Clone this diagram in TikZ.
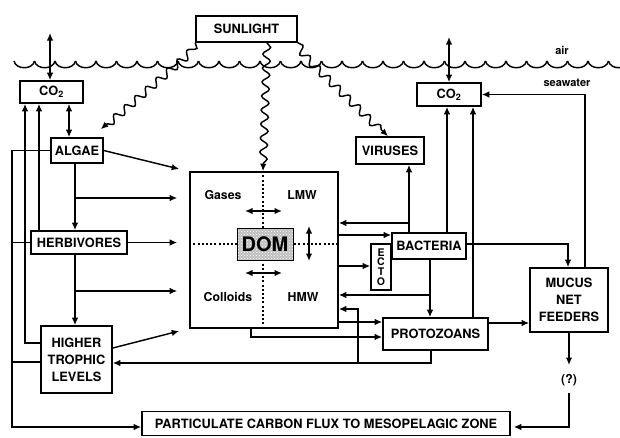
\documentclass[tikz,border=0pt]{standalone}
\usepackage{fontspec}
\setmainfont{TeX Gyre Heros}
\usetikzlibrary{arrows.meta,decorations.pathmorphing,patterns,calc}
\begin{document}
\begin{tikzpicture}[x=1pt,y=-1pt,
  box/.style={draw,line width=1.6pt,inner sep=0pt,align=center,font=\fontsize{12.8}{17}\selectfont\bfseries},
  arr/.style={line width=1.45pt,-{Latex[length=7.5pt,width=6.5pt]}},
  dbl/.style={line width=1.45pt,{Latex[length=7.5pt,width=6.5pt]}-{Latex[length=7.5pt,width=6.5pt]}},
  ln/.style={line width=1.45pt},
  wav/.style={line width=1.45pt,decorate,decoration={snake,amplitude=3.8pt,segment length=14pt,post length=7pt},-{Latex[length=7.5pt,width=6.5pt]}},
  lbl/.style={font=\fontsize{12.3}{14}\selectfont\bfseries,inner sep=0pt},
  dotl/.style={line width=1.2pt,dash pattern=on 2pt off 2.2pt}
]
\useasboundingbox (0,0) rectangle (620,437);

% water surface
\foreach \i in {0,...,29}{
  \pgfmathsetmacro\xa{14+20.5*\i}
  \draw[ln] (\xa,61) .. controls (\xa+2,70) and (\xa+18.5,70) .. (\xa+20.5,61);
}
\node[lbl,font=\fontsize{11}{12}\selectfont\bfseries] (air) at (562,50) {air};
\node[lbl,font=\fontsize{11}{12}\selectfont\bfseries] (sea) at (567,83) {seawater};

% boxes
\node[box,fill=white,minimum width=101pt,minimum height=26pt] (sun) at (246.5,29) {SUNLIGHT};
\node[box,fill=white,minimum width=63pt,minimum height=22pt] (co2L) at (51.5,92) {CO\textsubscript{2}};
\node[box,fill=white,minimum width=64pt,minimum height=23pt] (co2R) at (449,94.5) {CO\textsubscript{2}};
\node[box,minimum width=52pt,minimum height=25pt] (algae) at (77,150.5) {ALGAE};
\node[box,minimum width=96pt,minimum height=23pt] (herb) at (79,242.5) {HERBIVORES};
\node[box,minimum width=71pt,minimum height=67pt] (higher) at (76.5,359.5) {HIGHER\\TROPHIC\\LEVELS};
\node[box,minimum width=368pt,minimum height=24pt] (partic) at (326,423.5) {PARTICULATE CARBON FLUX TO MESOPELAGIC ZONE};
\node[box,minimum width=148pt,minimum height=156pt] (dom) at (264,250) {};
\node[box,minimum width=68pt,minimum height=27pt] (viruses) at (390,150.5) {VIRUSES};
\node[box,minimum width=74pt,minimum height=26pt] (bact) at (429,246) {BACTERIA};
\node[box,minimum width=20pt,minimum height=46pt,font=\fontsize{10.5}{9.7}\selectfont\bfseries] (ecto) at (381,267) {E\\C\\T\\O};
\node[box,minimum width=105pt,minimum height=32pt] (proto) at (435.5,334) {PROTOZOANS};
\node[box,minimum width=78pt,minimum height=64pt] (mucus) at (569,300) {MUCUS\\NET\\FEEDERS};
\node[lbl] (q) at (569,380) {(?)};
\coordinate (qt) at (569,365);
\coordinate (qb) at (569,393);

% DOM interior
\draw[dotl] (dom.north -| 263,0) -- (dom.south -| 263,0);
\draw[dotl] (dom.west |- 0,244) -- (dom.east |- 0,244);
\node[draw,line width=1pt,minimum width=56pt,minimum height=32pt,inner sep=0pt,
  preaction={fill=gray!50},pattern=crosshatch dots,pattern color=white,
  font=\fontsize{20}{20}\selectfont\bfseries] (domc) at (265,244) {DOM};
\node[lbl] (gases) at (223,195) {Gases};
\node[lbl] (lmw) at (302,195) {LMW};
\node[lbl] (colloids) at (228,297) {Colloids};
\node[lbl] (hmw) at (303,297) {HMW};
\coordinate (ha1) at (245,211); \coordinate (ha2) at (282,211);
\coordinate (hb1) at (245,273); \coordinate (hb2) at (282,273);
\coordinate (va1) at (309,226); \coordinate (va2) at (309,261);
\draw[dbl] (ha1) -- (ha2);
\draw[dbl] (hb1) -- (hb2);
\draw[dbl,line width=2.2pt] (va1) -- (va2);

% sunlight
\draw[wav] (sun.south west) .. controls (190,55) and (180,58) .. (175,65) -- ($(algae.north east)+(-3,-8)$);
\draw[wav] (sun.south -| 267,0) -- (dom.north -| 263,0);
\draw[wav] (sun.south east) .. controls (303,55) and (312,60) .. (316,66) -- ($(viruses.north)+(-2,0)$);

% air exchange
\coordinate (airL) at (50,33);
\coordinate (airR) at (449,37);
\draw[dbl] (airL) -- (co2L.north -| airL);
\draw[dbl] (airR) -- (co2R.north -| airR);

% left side
\draw[dbl] (co2L.south -| 69,0) -- (algae.north -| 69,0);
\draw[arr] (herb.north -| 39,0) -- (co2L.south -| 39,0);
\draw[arr] (higher.west |- 0,343) -| (co2L.south -| 25,0);
\coordinate (lb) at (12,427);
\draw[arr] (algae.west) -| (lb) -- (partic.west |- lb);
\draw[ln] (herb.west) -- (herb.west -| lb);
\draw[ln] (higher.west |- 0,362) -- (12,362);

\draw[arr] (algae.south -| 75,0) -- (herb.north -| 75,0);
\draw[arr] (herb.south -| 75,0) -- (higher.north -| 75,0);
\draw[arr] (75,198) -- ($(dom.west |- 0,198)+(-12,0)$);
\draw[arr] (75,291) -- ($(dom.west |- 0,291)+(-12,0)$);
\draw[arr] (algae.east) -- ($(dom.west |- 0,169)+(-10,0)$);
\draw[arr] (herb.east) -- ($(dom.west |- 0,242.5)+(-12,0)$);
\draw[arr] (higher.east |- 0,348) -- ($(dom.west |- 0,331)+(-10,0)$);

% DOM / bacteria / protozoans
\draw[arr] (dom.east |- 0,235) -- (bact.west |- 0,235);
\draw[arr] (dom.east |- 0,266) -- (ecto.west |- 0,266);
\draw[arr] (bact.north -| 409,0) -- (viruses.south -| 409,0);
\draw[arr] (409,223) -- (dom.east |- 0,223);
\draw[arr] (bact.south -| 430,0) -- (proto.north -| 430,0);
\draw[arr] (430,295) -- (dom.east |- 0,295);
\draw[arr] (dom.east |- 0,322) -- (proto.west |- 0,322);
\draw[arr] (dom.south -| 251,0) |- (proto.west |- 0,337);
\draw[arr] (proto.south -| 431,0) |- (higher.east |- 0,363);
\draw[arr] (358,363) |- (dom.east |- 0,309);

% right side
\draw[arr] (bact.north -| 447,0) -- (co2R.south -| 447,0);
\draw[arr] (proto.north -| 473,0) -- (co2R.south -| 473,0);
\draw[arr] (mucus.north -| 585,0) |- (co2R.east);
\draw[arr] (bact.east |- 0,244) -| (mucus.north -| 568,0);
\draw[arr] (proto.east |- 0,323) -- (mucus.west |- 0,323);
\draw[arr] (mucus.south) -- (qt);
\draw[arr] (qb) |- ($(partic.east |- 0,427)+(3,0)$);
\end{tikzpicture}
\end{document}
